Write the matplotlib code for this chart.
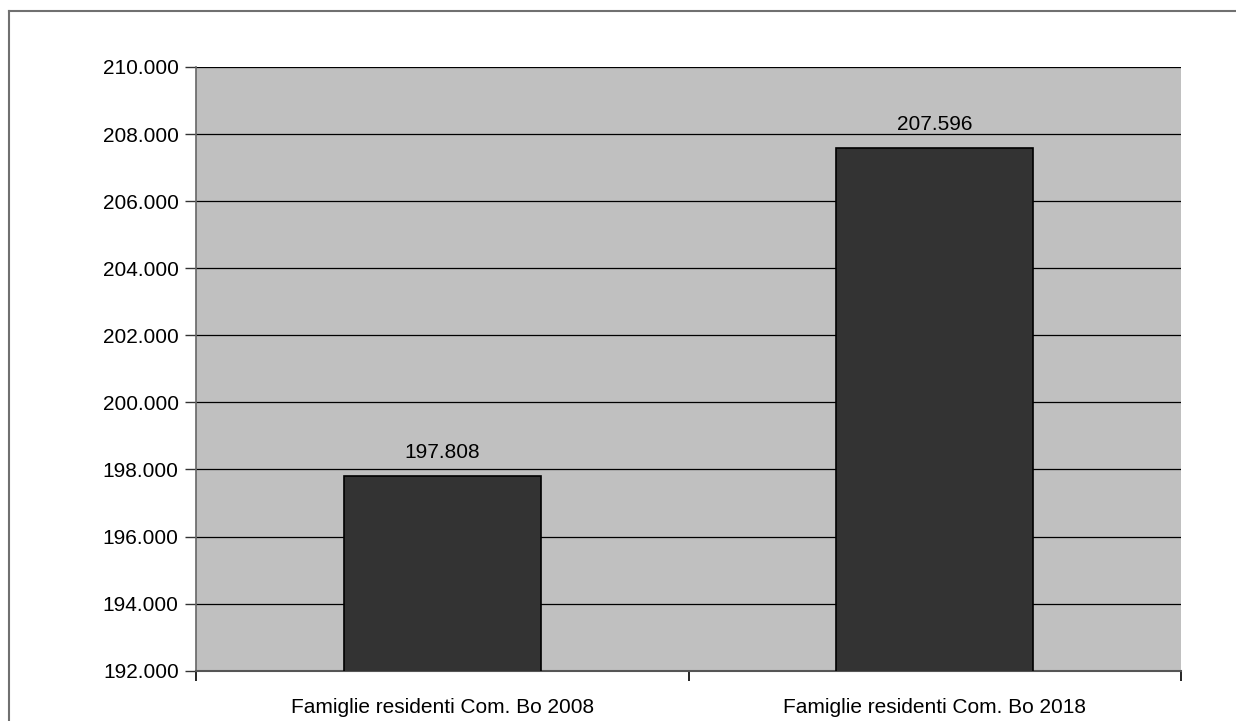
import matplotlib
matplotlib.use("Agg")
import matplotlib.pyplot as plt
from matplotlib.lines import Line2D
from matplotlib.ticker import FuncFormatter, FixedLocator

categories = ["Famiglie residenti Com. Bo 2008", "Famiglie residenti Com. Bo 2018"]
values = [197808, 207596]
y_ticks = [192000, 194000, 196000, 198000, 200000, 202000, 204000, 206000, 208000, 210000]

plt.rcParams['font.family'] = ['Liberation Sans', 'DejaVu Sans']

fig = plt.figure(figsize=(12.36, 7.21), dpi=100)
W, H = 1236, 721
ax = fig.add_axes([196 / W, (H - 670.7) / H, (1181 - 196) / W, (670.7 - 67) / H])
ax.set_facecolor('#C0C0C0')

x = list(range(len(categories)))
ax.bar(x, values, width=0.40, color='#333333', edgecolor='black', linewidth=1.2, zorder=3)
ax.set_xlim(-0.5, 1.5)
ax.set_ylim(192000, 210000)

for xi, v in zip(x, values):
    ax.text(xi, v + 400, f"{v/1000:.3f}", ha='center', va='bottom', fontsize=15, color='black', zorder=4)

ax.yaxis.set_major_locator(FixedLocator(y_ticks))
ax.yaxis.set_major_formatter(FuncFormatter(lambda val, pos: f"{val/1000:.3f}"))
ax.yaxis.grid(True, color='black', linewidth=0.9, zorder=1)
ax.set_axisbelow(True)

ax.set_xticks([0, 1])
ax.set_xticklabels(categories)
ax.xaxis.set_minor_locator(FixedLocator([-0.5, 0.5, 1.5]))
ax.tick_params(axis='x', which='major', length=0, pad=20, labelsize=15)
ax.tick_params(axis='x', which='minor', length=7, width=1.2, color='black', direction='out')
ax.tick_params(axis='y', which='major', length=8, width=1.0, color='#333333', direction='out', pad=4.5, labelsize=15)

for s in ['top', 'right']:
    ax.spines[s].set_visible(False)
ax.spines['left'].set_color('#666666')
ax.spines['left'].set_linewidth(1.2)
ax.spines['bottom'].set_color('#555555')
ax.spines['bottom'].set_linewidth(1.5)

# outer frame (left and top edges visible)
fig.add_artist(Line2D([9 / W, 9 / W], [0, (H - 11) / H], transform=fig.transFigure, color='#707070', linewidth=1.5))
fig.add_artist(Line2D([9 / W, 1], [(H - 11) / H, (H - 11) / H], transform=fig.transFigure, color='#707070', linewidth=1.5))

fig.savefig('out.png', dpi=100, facecolor='white')
